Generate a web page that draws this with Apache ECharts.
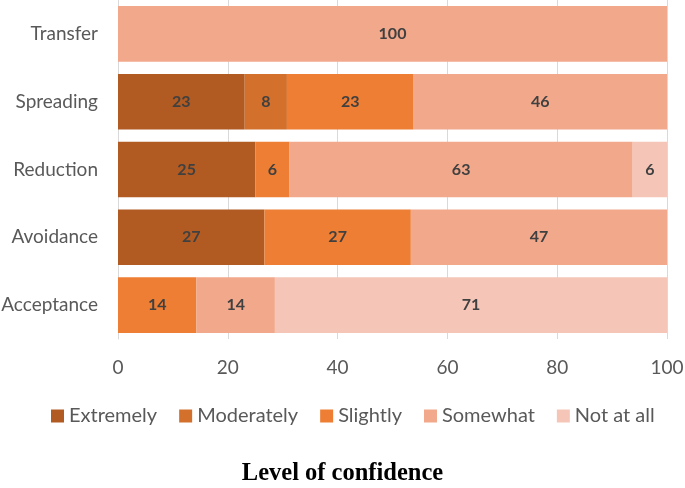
<!DOCTYPE html>
<html><head><meta charset="utf-8">
<script src="https://cdn.jsdelivr.net/npm/echarts@6/dist/echarts.min.js"></script>
<style>html,body{margin:0;padding:0;background:#fff}#c{width:685px;height:488px}</style>
</head><body><div id="c"></div>
<script>
var categories = ['Acceptance', 'Avoidance', 'Reduction', 'Spreading', 'Transfer'];
var seriesNames = ['Extremely', 'Moderately', 'Slightly', 'Somewhat', 'Not at all'];
var extremely  = [0, 26.67, 25, 23.08, 0];
var moderately = [0, 0, 0, 7.69, 0];
var slightly   = [14.29, 26.67, 6.25, 23.08, 0];
var somewhat   = [14.29, 46.67, 62.5, 46.15, 100];
var notAtAll   = [71.43, 0, 6.25, 0, 0];
var xTicks = [0, 20, 40, 60, 80, 100];
var colors = ['#B15B22', '#D2702C', '#EE7E33', '#F1A88B', '#F5C6B8'];
var values = [extremely, moderately, slightly, somewhat, notAtAll];

var FONT = 'Lato';
var chart = echarts.init(document.getElementById('c'));
chart.setOption({
  animation: false,
  grid: {left: 118, right: 18, top: 0, bottom: 149, containLabel: false, outerBoundsMode: 'none'},
  title: {text: 'Level of confidence', left: 'center', top: 456,
    textStyle: {fontFamily: 'Liberation Serif', fontWeight: 'bold', fontSize: 24.5, color: '#000'}},
  legend: {data: seriesNames, left: 46, top: 401, itemWidth: 13, itemHeight: 13, itemGap: 22,
    icon: 'rect', textStyle: {fontFamily: FONT, fontSize: 20, color: '#595959'}},
  xAxis: {type: 'value', min: xTicks[0], max: xTicks[xTicks.length-1], interval: 20,
    axisLine: {show: false}, axisTick: {show: false},
    splitLine: {lineStyle: {color: '#d9d9d9', width: 1}},
    axisLabel: {fontFamily: FONT, fontSize: 19, color: '#595959', margin: 19}},
  yAxis: {type: 'category', data: categories,
    axisLine: {show: true, lineStyle: {color: '#d9d9d9'}}, axisTick: {show: false},
    axisLabel: {fontFamily: FONT, fontSize: 19, color: '#595959', margin: 20}},
  series: seriesNames.map(function (n, i) {
    return {name: n, type: 'bar', stack: 'total', barCategoryGap: '18%',
      itemStyle: {color: colors[i]},
      label: {show: true, position: 'inside', fontFamily: FONT, fontWeight: 'bold',
        fontSize: 16, color: '#404040',
        formatter: function (p) { return p.value > 0 ? Math.round(p.value) : ''; }},
      data: values[i]};
  })
});
</script></body></html>
